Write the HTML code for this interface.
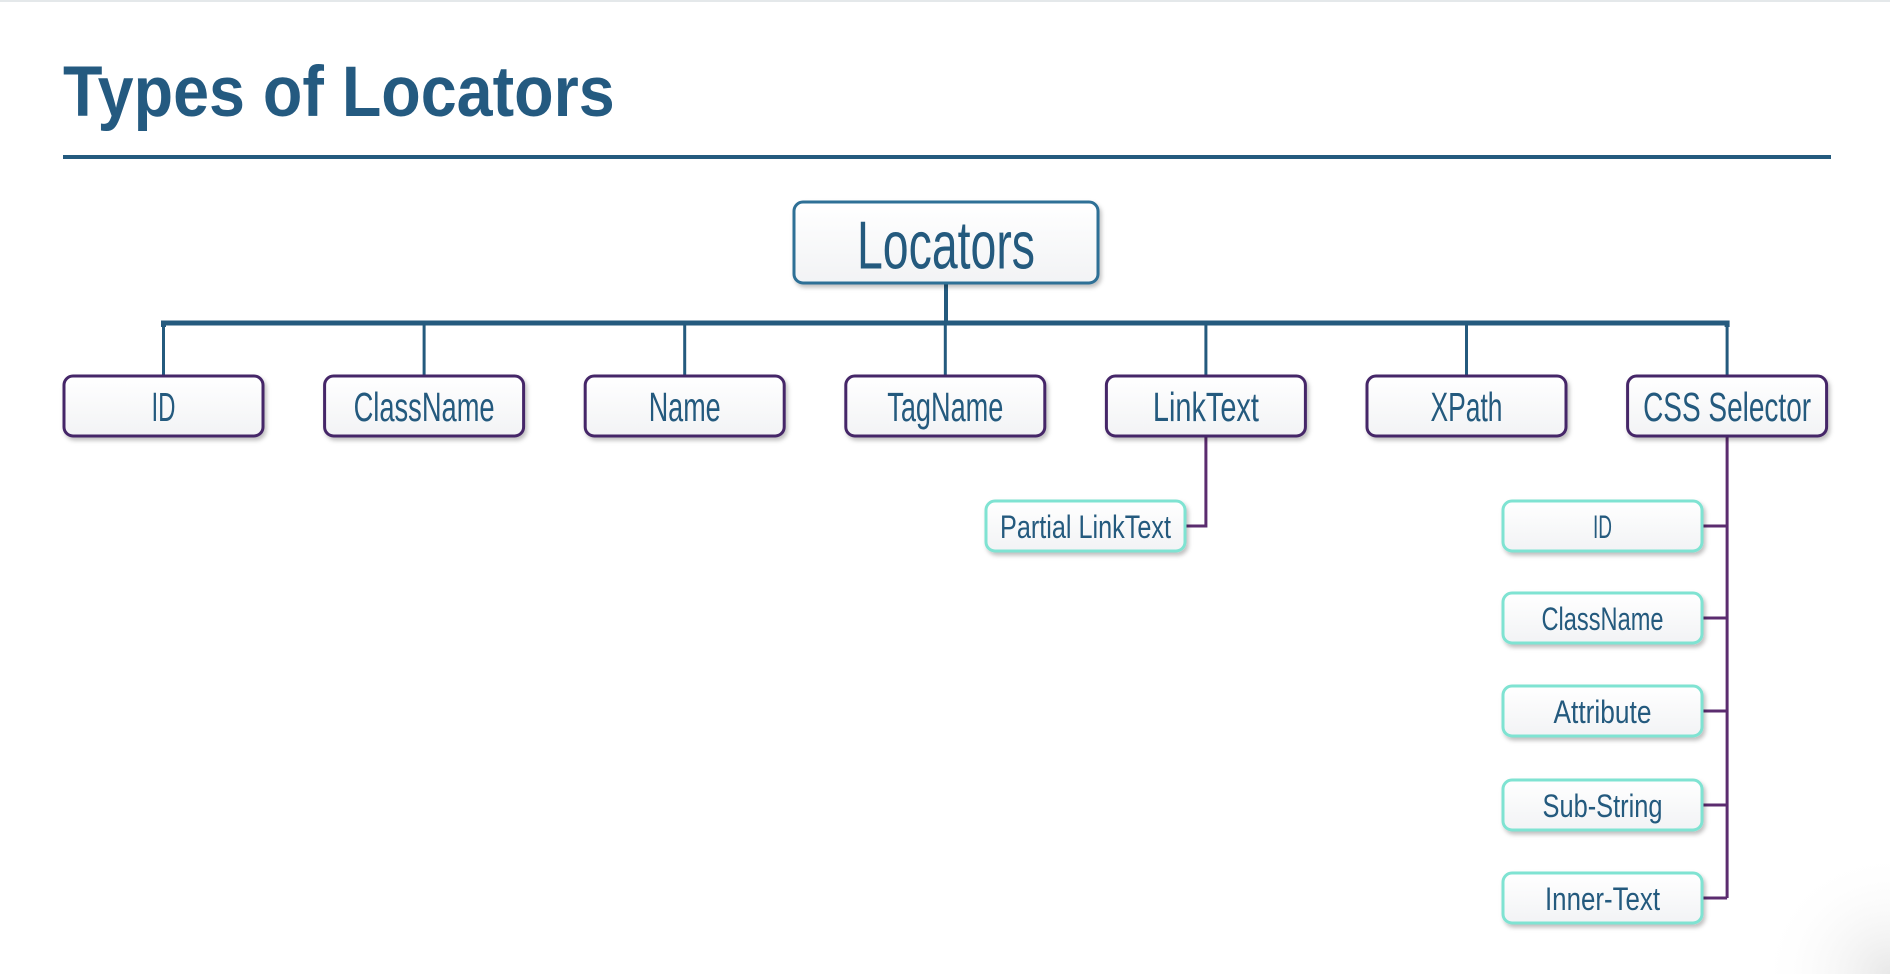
<!DOCTYPE html>
<html><head><meta charset="utf-8"><style>
html,body{margin:0;padding:0;background:#fff;width:1890px;height:974px;overflow:hidden}
#title{position:absolute;left:63px;top:52px;margin:0;font:bold 71px "Liberation Sans",sans-serif;color:#245a80;transform:scaleX(0.91);transform-origin:0 0;white-space:nowrap}
#rule{position:absolute;left:63px;top:155px;width:1768px;height:4px;background:#245a7e}
svg{position:absolute;left:0;top:0}
</style></head><body>
<div style="position:absolute;left:0;top:0;width:1890px;height:2px;background:#e4e8ea"></div>
<h1 id="title">Types of Locators</h1>
<div id="rule"></div>
<svg width="1890" height="974">
<defs>
<linearGradient id="fill" x1="0" y1="0" x2="0" y2="1"><stop offset="0" stop-color="#ffffff"/><stop offset="1" stop-color="#f2f3f5"/></linearGradient>
<filter id="sh" x="-10%" y="-10%" width="130%" height="140%"><feDropShadow dx="2" dy="3" stdDeviation="2" flood-color="#000" flood-opacity="0.25"/></filter>
<radialGradient id="corner" cx="1" cy="1" r="1"><stop offset="0" stop-color="#e8e8e8"/><stop offset="1" stop-color="#ffffff" stop-opacity="0"/></radialGradient>
</defs>
<rect x="1760" y="850" width="130" height="124" fill="url(#corner)"/>
<g id="lines"></g>
<g id="boxes"></g>
</svg>
<script>
const NS='http://www.w3.org/2000/svg';
const root={label:'Locators',x:794,y:202,w:304,h:81,tw:178};
const level1=['ID','ClassName','Name','TagName','LinkText','XPath','CSS Selector'];
const level1W=[24,141,72,116,106,72,168];
const cssChildren=['ID','ClassName','Attribute','Sub-String','Inner-Text'];
const cssChildW=[19,122,98,120,115];
const linkChild='Partial LinkText';
const lines=document.getElementById('lines');
const boxes=document.getElementById('boxes');
function mk(tag,attrs,parent){const e=document.createElementNS(NS,tag);for(const k in attrs)e.setAttribute(k,attrs[k]);parent.appendChild(e);return e;}
function line(pts,color,w,name){
 const p=mk('polyline',{points:pts.map(a=>a.join(',')).join(' '),fill:'none',stroke:color,'stroke-width':w},lines);
 
 
}
function box(x,y,w,h,stroke,label,tw,fs,dy,name){
 const g=mk('g',{},boxes);
 
 
 mk('rect',{x:x,y:y,width:w,height:h,rx:9,fill:'url(#fill)',stroke:stroke,'stroke-width':3,filter:'url(#sh)'},g);
 const t=mk('text',{x:x+w/2,y:y+h/2+dy,'text-anchor':'middle','font-family':'Liberation Sans, sans-serif','font-size':fs,fill:'#245a7e',textLength:tw,lengthAdjust:'spacingAndGlyphs'},g);
 t.textContent=label;
}
const blue='#245a7e',purple='#5b2c6f';
const busY=323,l1Y=376,l1H=60,l1W=199,pitch=260.6,l1X0=64;
const cx=i=>l1X0+i*pitch+l1W/2;
line([[946,283],[946,busY]],blue,4,'root-connector');
line([[cx(0),busY+4],[cx(0),busY],[cx(6),busY],[cx(6),busY+4]],blue,5,'bus-line');
level1.forEach((l,i)=>line([[cx(i),busY],[cx(i),l1Y]],blue,3,'drop-'+i));
const pcY=501,cH=50,cW=199;
line([[cx(4),l1Y+l1H],[cx(4),pcY+cH/2],[986+cW,pcY+cH/2]],purple,3,'linktext-connector');
const cssTops=[501,593,686,780,873];
const cssX=1503;
line([[cx(6),l1Y+l1H],[cx(6),cssTops[4]+cH/2]],purple,3,'css-trunk');
cssChildren.forEach((c,i)=>line([[cssX+cW,cssTops[i]+cH/2],[cx(6),cssTops[i]+cH/2]],purple,3,'css-stub-'+i));
box(root.x,root.y,root.w,root.h,'#2e6f96',root.label,root.tw,68,26,'locators-root-node');
level1.forEach((l,i)=>box(l1X0+i*pitch,l1Y,l1W,l1H,'#452667',l,level1W[i],41,15,'node-'+l.toLowerCase().replace(/\s+/g,'-')));
box(986,pcY,cW,cH,'#7fe3d2',linkChild,171,32,12,'node-partial-linktext');
cssChildren.forEach((c,i)=>box(cssX,cssTops[i],cW,cH,'#7fe3d2',c,cssChildW[i],32,12,'css-node-'+c.toLowerCase()));
</script>
</body></html>
